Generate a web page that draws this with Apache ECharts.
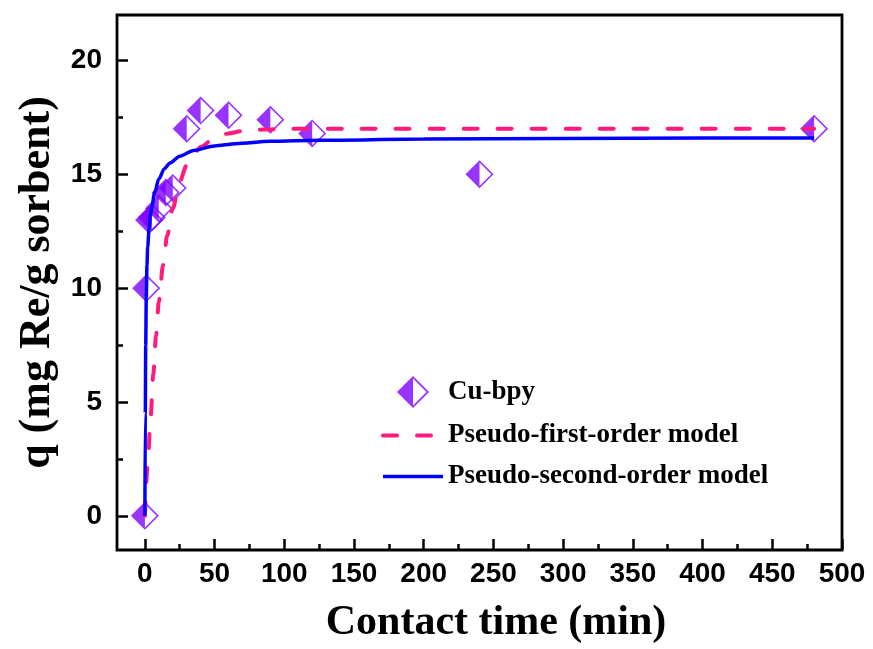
<!DOCTYPE html>
<html>
<head>
<meta charset="utf-8">
<script src="https://cdn.jsdelivr.net/npm/echarts@6/dist/echarts.min.js"></script>
<style>
  html, body { margin: 0; padding: 0; background: #ffffff; }
  #chart { width: 873px; height: 649px; }
</style>
</head>
<body>
<div id="chart"></div>
<script>
// Measured adsorption of Re on Cu-bpy
const timeMin = [0, 1, 3, 5, 10, 15, 20, 30, 40, 60, 90, 120, 240, 480];
const qMeasured = [0, 10.0, 13.0, 13.1, 13.5, 14.2, 14.4, 17.0, 17.8, 17.6, 17.4, 16.8, 15.0, 17.0];

// Pseudo-first-order fitted curve
const pfoTime = [0, 2, 4, 6, 8, 10, 13, 16, 20, 25, 30, 35, 40, 50, 60, 70, 85, 100, 150, 250, 350, 480];
const pfoQ = [0, 2.2, 4.2, 6.2, 7.9, 9.4, 11.0, 12.3, 13.5, 14.7, 15.4, 15.9, 16.2, 16.6, 16.8, 16.9, 16.97, 17.0, 17.0, 17.0, 17.0, 17.0];

// Pseudo-second-order fitted curve
const psoTime = [0, 0.3, 0.6, 1, 1.5, 2, 3, 4, 5, 7, 10, 14, 18, 25, 35, 50, 65, 90, 125, 200, 300, 400, 480];
const psoQ = [0, 4.5, 7.5, 9.6, 11.0, 11.8, 12.6, 13.2, 13.6, 14.2, 14.8, 15.25, 15.5, 15.8, 16.05, 16.25, 16.35, 16.45, 16.5, 16.55, 16.58, 16.6, 16.6];

// Tick positions
const xMajorTicks = [0, 50, 100, 150, 200, 250, 300, 350, 400, 450, 500];
const xMinorTicks = [25, 75, 125, 175, 225, 275, 325, 375, 425, 475];
const yMajorTicks = [0, 5, 10, 15, 20];
const yMinorTicks = [2.5, 7.5, 12.5, 17.5];

const seriesNames = ['Cu-bpy', 'Pseudo-first-order model', 'Pseudo-second-order model'];

const zip = (xs, ys) => xs.map((x, i) => [x, ys[i]]);

// Half-filled diamond: outer outline ring plus the filled left half
const halfDiamond = 'path://M50 0 L100 50 L50 100 L0 50 Z M50 8 L8 50 L50 92 L92 50 Z M50 0 L50 100 L0 50 Z';

const X_MIN = -20, X_MAX = 500, Y_MIN = -1.5, Y_MAX = 22;
const tickColor = '#000000';
const labelFont = { fontFamily: 'Liberation Sans', fontWeight: 'bold', fontSize: 28, color: '#000000' };
const titleFont = { fontFamily: 'Liberation Serif', fontWeight: 'bold', color: '#000000' };
const PFO_COLOR = '#ff1a7d', PSO_COLOR = '#0000ff', CU_COLOR = '#8000ff';

const chart = echarts.init(document.getElementById('chart'), null, { renderer: 'canvas' });

function plainAxis(extra) {
  return Object.assign({
    type: 'value',
    axisLine: { show: false, onZero: false },
    splitLine: { show: false }
  }, extra);
}

chart.setOption({
  animation: false,
  backgroundColor: '#ffffff',
  grid: {
    left: 117, right: 31, top: 15, bottom: 98,
    show: true, borderColor: '#000000', borderWidth: 2.8, backgroundColor: 'transparent'
  },
  legend: {
    orient: 'vertical',
    left: 376, top: 371,
    itemWidth: 60, itemHeight: 32, itemGap: 14,
    data: [
      { name: seriesNames[0] },
      { name: seriesNames[1], itemStyle: { opacity: 0 }, lineStyle: { width: 4 } },
      { name: seriesNames[2], itemStyle: { opacity: 0 }, lineStyle: { width: 3.5 } }
    ],
    textStyle: { fontFamily: 'Liberation Serif', fontWeight: 'bold', fontSize: 27, color: '#000000' }
  },
  xAxis: [
    plainAxis({
      min: X_MIN, max: X_MAX,
      name: 'Contact time (min)', nameLocation: 'middle', nameGap: 52,
      nameTextStyle: Object.assign({ fontSize: 42, padding: [0, 0, 0, 33] }, titleFont),
      axisTick: { show: true, inside: true, length: 11, customValues: xMajorTicks, lineStyle: { color: tickColor, width: 2.5 } },
      axisLabel: Object.assign({ margin: 10, customValues: xMajorTicks }, labelFont)
    }),
    plainAxis({
      min: X_MIN, max: X_MAX, position: 'bottom',
      axisTick: { show: true, inside: true, length: 6, customValues: xMinorTicks, lineStyle: { color: tickColor, width: 2.5 } },
      axisLabel: { show: false }
    })
  ],
  yAxis: [
    plainAxis({
      min: Y_MIN, max: Y_MAX,
      name: 'q (mg Re/g sorbent)', nameLocation: 'middle', nameGap: 56,
      nameTextStyle: Object.assign({ fontSize: 44 }, titleFont),
      axisTick: { show: true, inside: true, length: 11, customValues: yMajorTicks, lineStyle: { color: tickColor, width: 2.5 } },
      axisLabel: Object.assign({ margin: 15, customValues: yMajorTicks }, labelFont)
    }),
    plainAxis({
      min: Y_MIN, max: Y_MAX, position: 'left',
      axisTick: { show: true, inside: true, length: 6, customValues: yMinorTicks, lineStyle: { color: tickColor, width: 2.5 } },
      axisLabel: { show: false }
    })
  ],
  series: [
    {
      name: seriesNames[0],
      type: 'scatter',
      xAxisIndex: 0, yAxisIndex: 0,
      data: zip(timeMin, qMeasured),
      symbol: halfDiamond,
      symbolSize: 28,
      symbolKeepAspect: true,
      itemStyle: { color: CU_COLOR },
      z: 2
    },
    {
      name: seriesNames[1],
      type: 'line',
      xAxisIndex: 0, yAxisIndex: 0,
      data: zip(pfoTime, pfoQ),
      symbol: 'none',
      smooth: 0.3,
      smoothMonotone: 'x',
      lineStyle: { color: PFO_COLOR, width: 4, type: [14, 20], cap: 'round' },
      itemStyle: { color: PFO_COLOR },
      z: 3
    },
    {
      name: seriesNames[2],
      type: 'line',
      xAxisIndex: 0, yAxisIndex: 0,
      data: zip(psoTime, psoQ),
      symbol: 'none',
      smooth: 0.3,
      smoothMonotone: 'x',
      lineStyle: { color: PSO_COLOR, width: 3.5 },
      itemStyle: { color: PSO_COLOR },
      z: 4
    }
  ]
});
</script>
</body>
</html>
